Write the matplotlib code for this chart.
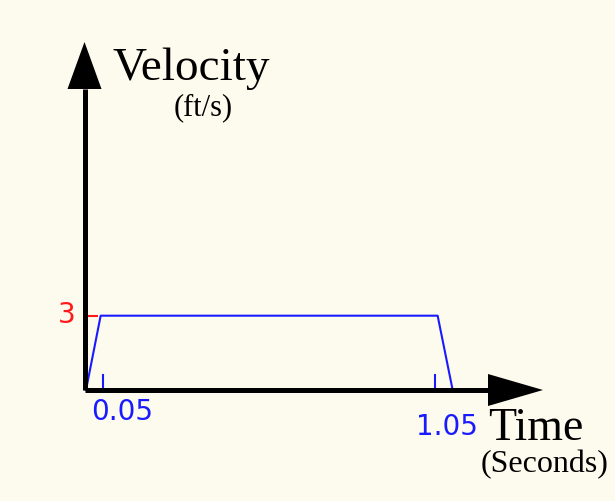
import matplotlib
matplotlib.use("Agg")
import matplotlib.pyplot as plt

# Data
time_s = [0.0, 0.042, 1.007, 1.05]
velocity = [0, 3, 3, 0]
x_ticks = [0.05, 1.0]
x_tick_labels = ["0.05", "1.05"]
y_tick = 3

W, H = 615, 502
BG = "#fdfaee"
BLUE = "#1a1aff"
RED = "#ff1a1a"

fig = plt.figure(figsize=(W / 100, H / 100), dpi=100, facecolor=BG)
ax = fig.add_axes([0, 0, 1, 1])
ax.set_facecolor(BG)
ax.axis("off")

# pixel mapping (layout): t=0 at px 86, 1 s = 349.2 px ; v=0 at py 391, 1 ft/s = 24.77 px
x0, sx = 86.0, 349.2
y0, sy = 391.0, 24.77
ax.set_xlim(-x0 / sx, (W - x0) / sx)
ax.set_ylim(-(H - y0) / sy, y0 / sy)

def fx(px):
    return px / W

def fy(py):
    return 1 - py / H

# axes lines with arrowheads
x_tip = (543 - x0) / sx
x_base = (488 - x0) / sx
y_tip = (y0 - 43) / sy
y_base = (y0 - 90) / sy
ax_x = (84.5 - x0) / sx
ax.plot([ax_x, x_base], [0, 0], color="black", lw=3.6, solid_capstyle="butt", zorder=3)
ax.plot([ax_x, ax_x], [-0.02, y_base], color="black", lw=3.6, solid_capstyle="butt", zorder=3)
hh = 16 / sy
ax.fill([x_base, x_tip, x_base], [hh, 0, -hh], color="black", zorder=4, lw=0)
hw = 17 / sx
ax.fill([ax_x - hw, ax_x, ax_x + hw], [y_base, y_tip, y_base], color="black", zorder=4, lw=0)

# trapezoid
ax.plot(time_s, velocity, color=BLUE, lw=1.5, zorder=2)

# x ticks (short blue marks)
for t in x_ticks:
    ax.plot([t, t], [0, 15 / sy], color=BLUE, lw=1.5, zorder=2)

# y tick (red)
ax.plot([ax_x, (97 - x0) / sx], [y_tick, y_tick], color=RED, lw=1.5, zorder=2)

# labels
ax.text(fx(67), fy(315), str(y_tick), transform=fig.transFigure, color=RED,
        fontsize=20, family="DejaVu Sans", ha="center", va="center")
ax.text(fx(122), fy(412), x_tick_labels[0], transform=fig.transFigure, color=BLUE,
        fontsize=20, family="DejaVu Sans", ha="center", va="center")
ax.text(fx(447), fy(427), x_tick_labels[1], transform=fig.transFigure, color=BLUE,
        fontsize=20, family="DejaVu Sans", ha="center", va="center")

ax.text(fx(191), fy(69), "Velocity", transform=fig.transFigure, color="black",
        fontsize=34, family="Liberation Serif", ha="center", va="center")
ax.text(fx(203), fy(108), "(ft/s)", transform=fig.transFigure, color="black",
        fontsize=22, family="Liberation Serif", ha="center", va="center")
ax.text(fx(536), fy(429), "Time", transform=fig.transFigure, color="black",
        fontsize=33, family="Liberation Serif", ha="center", va="center")
ax.text(fx(545), fy(465), "(Seconds)", transform=fig.transFigure, color="black",
        fontsize=23, family="Liberation Serif", ha="center", va="center")

fig.savefig("out.png", dpi=100, facecolor=BG)
